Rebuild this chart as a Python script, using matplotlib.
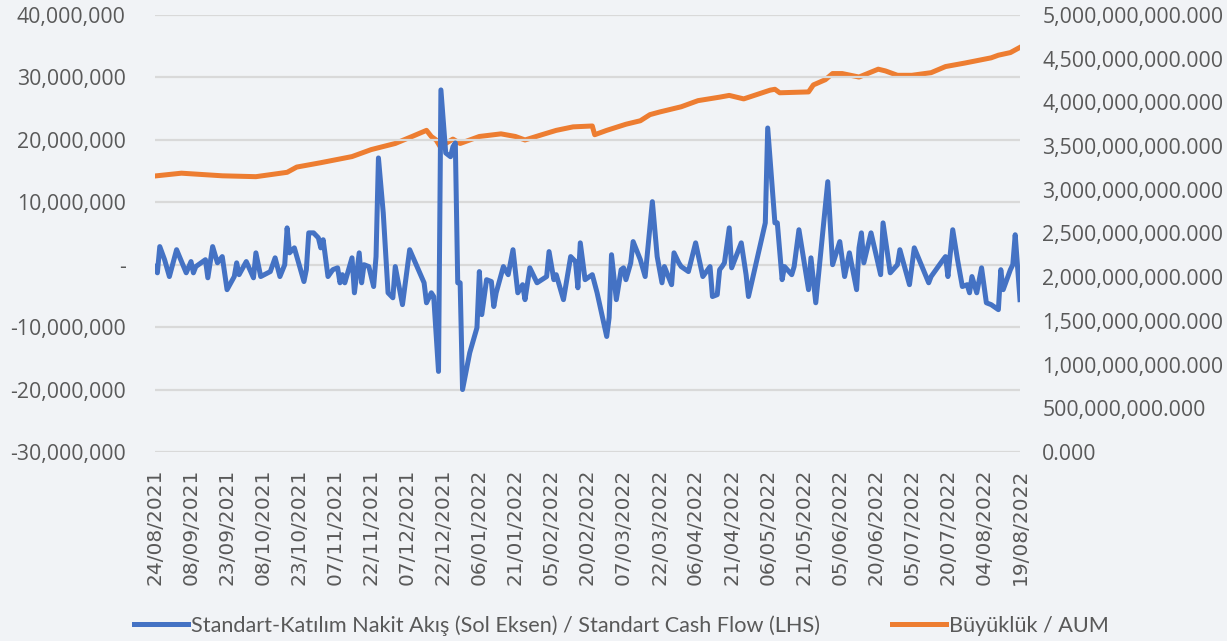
import numpy as np
import pandas as pd
import matplotlib
matplotlib.use('Agg')
import matplotlib.pyplot as plt
import matplotlib.ticker as mticker

# ------------------------------------------------------
#  Data (days counted from 24/08/2021)
# ------------------------------------------------------
start_date = pd.Timestamp('2021-08-24')

# Standart cash flow, millions TL
flow_days = [0, 1, 2, 4, 6, 9, 13, 15, 16, 17, 21, 22, 24, 26, 28, 30, 33, 34, 35, 38,
             41, 42, 44, 48, 50, 52, 54, 55, 56, 58, 62, 63, 64, 66, 68, 69, 70, 72, 74, 76,
             77, 78, 79, 82, 83, 85, 86, 87, 89, 91, 92, 93, 95, 97, 99, 100, 103, 106, 112, 113,
             115, 116, 118, 119, 121, 123, 124, 125, 126, 127, 128, 131, 134, 135, 136, 138, 140, 141, 142, 145,
             147, 149, 151, 153, 154, 156, 159, 163, 164, 166, 167, 170, 173, 175, 176, 177, 179, 182, 184, 188,
             189, 190, 192, 194, 195, 196, 198, 199, 202, 204, 207, 209, 211, 212, 215, 216, 218, 219, 222, 225,
             228, 231, 232, 234, 235, 236, 237, 239, 240, 244, 246, 247, 254, 255, 258, 259, 261, 262, 265, 266,
             268, 271, 272, 273, 275, 280, 282, 285, 287, 289, 292, 293, 294, 295, 298, 302, 303, 306, 309, 310,
             314, 316, 322, 323, 328, 329, 330, 332, 334, 336, 338, 339, 340, 342, 344, 346, 348, 351, 352, 353,
             356, 357, 358, 360]
flow_musd = [-0.3, -1.3, 2.9, 0.8, -1.9, 2.4, -1.3, 0.5, -1.3, -0.3, 0.8, -2.1, 2.9, 0.3, 1.3, -4.0, -1.9, 0.3, -1.6, 0.5,
             -2.1, 1.9, -1.9, -1.1, 1.1, -1.9, 0.0, 5.9, 1.9, 2.7, -2.7, -0.8, 5.1, 5.1, 4.3, 2.7, 4.0, -1.9, -0.8, -0.5,
             -2.9, -1.6, -2.9, 1.1, -4.5, 1.9, -2.9, 0.0, -0.3, -3.5, 1.3, 17.1, 8.3, -4.5, -5.3, -0.3, -6.4, 2.4, -2.9, -6.1,
             -4.5, -5.1, -17.1, 28.0, 17.9, 17.3, 18.9, 19.5, -2.9, -2.9, -20.0, -14.1, -10.1, -1.1, -8.0, -2.4, -2.7, -6.7, -4.5, -0.3,
             -1.6, 2.4, -4.5, -3.2, -5.6, -0.5, -2.9, -1.9, 2.1, -2.4, -1.6, -5.6, 1.3, 0.5, -3.7, 3.5, -2.4, -1.6, -4.5, -11.5,
             -8.5, 1.6, -5.6, -0.8, -0.5, -2.4, 0.3, 3.7, 0.8, -1.9, 10.1, 1.3, -2.9, -0.3, -3.2, 1.9, 0.3, -0.3, -1.1, 3.5,
             -1.9, -0.3, -5.1, -4.8, -0.8, -0.3, 0.3, 5.9, -0.5, 3.5, -1.6, -5.1, 6.7, 21.9, 6.7, 6.7, -2.4, -0.3, -1.6, -0.3,
             5.6, -1.6, -4.0, 1.1, -6.1, 13.3, 0.0, 3.7, -1.9, 1.9, -4.0, 2.7, 5.1, 0.3, 5.1, -1.6, 6.7, -1.3, 0.0, 2.4,
             -3.2, 2.7, -2.9, -1.9, 0.8, 1.3, -1.9, 5.6, 0.8, -3.5, -3.2, -4.5, -1.9, -4.5, -0.5, -6.1, -6.4, -7.2, -0.8, -4.0,
             -0.8, 0.0, 4.8, -5.6, -4.0][:len(flow_days)]

# Fund size (AUM), billions TL
aum_days = [0, 11, 28, 42, 55, 59, 69, 82, 90, 100, 107, 113, 115, 117, 119, 121, 124, 127, 135, 144,
            150, 154, 161, 167, 174, 182, 183, 188, 196, 202, 206, 210, 219, 226, 235, 239, 245, 256, 258, 260,
            272, 274, 279, 282, 286, 293, 301, 304, 309, 315, 323, 329, 337, 348, 351, 356, 360]
aum_bn = [3.158, 3.19, 3.16, 3.15, 3.20, 3.26, 3.31, 3.38, 3.46, 3.53, 3.61, 3.68, 3.61, 3.57, 3.48, 3.53, 3.58, 3.53, 3.61, 3.64,
          3.61, 3.57, 3.63, 3.68, 3.72, 3.73, 3.63, 3.68, 3.75, 3.79, 3.86, 3.89, 3.95, 4.02, 4.06, 4.08, 4.04, 4.14, 4.15, 4.11,
          4.12, 4.20, 4.26, 4.33, 4.33, 4.29, 4.38, 4.36, 4.31, 4.31, 4.34, 4.41, 4.45, 4.51, 4.54, 4.57, 4.63]

flow_label = 'Standart-Katılım Nakit Akış (Sol Eksen) / Standart Cash Flow (LHS)'
aum_label = 'Büyüklük / AUM'

flow_dates = start_date + pd.to_timedelta(flow_days, unit='D')
aum_dates = start_date + pd.to_timedelta(aum_days, unit='D')
flow_vals = np.array(flow_musd) * 1e6
aum_vals = np.array(aum_bn) * 1e9
tick_dates = pd.date_range(start_date, periods=25, freq='15D')

# ------------------------------------------------------
#  Plot
# ------------------------------------------------------
bg = '#f1f3f6'
txt = '#595959'
plt.rcParams['font.family'] = ['Open Sans', 'DejaVu Sans']

fig = plt.figure(figsize=(12.27, 6.41), dpi=100, facecolor=bg)
ax = fig.add_axes([0.1263, 0.2949, 0.705, 0.6817])
ax.set_facecolor(bg)
ax2 = ax.twinx()

l1, = ax.plot(flow_dates, flow_vals, color='#4472C4', lw=3.6, solid_joinstyle='round', zorder=3)
l2, = ax2.plot(aum_dates, aum_vals, color='#ED7D31', lw=3.6, solid_joinstyle='round', zorder=3)

ax.set_ylim(-30e6, 40e6)
ax.set_yticks(np.arange(-30e6, 40e6 + 1, 10e6))
ax2.set_ylim(0, 5e9)
ax2.set_yticks(np.arange(0, 5e9 + 1, 0.5e9))
ax.set_xlim(start_date, start_date + pd.Timedelta(days=360))

ax.yaxis.set_major_formatter(mticker.FuncFormatter(lambda v, p: '-' if abs(v) < 1 else f'{v:,.0f}'))
ax2.yaxis.set_major_formatter(mticker.FuncFormatter(lambda v, p: f'{v:,.3f}'))

ax.set_xticks(tick_dates)
ax.set_xticklabels([d.strftime('%d/%m/%Y') for d in tick_dates], rotation=90,
                   fontsize=14.5, color=txt, family=['DejaVu Sans'])

ax.grid(axis='y', color='#d9d9d9', lw=1.6, zorder=0)
ax.set_axisbelow(True)
for a in (ax, ax2):
    for s in a.spines.values():
        s.set_visible(False)
    a.tick_params(length=0, labelsize=15.3, labelcolor=txt)
ax.tick_params(axis='y', pad=21)
ax.tick_params(axis='x', pad=12, labelsize=14.5)
ax2.tick_params(axis='y', pad=16)
ax.set_zorder(ax2.get_zorder() + 1)
ax.patch.set_visible(False)

fig.legend([l1, l2], [flow_label, aum_label], loc='lower left', bbox_to_anchor=(0.093, -0.022),
           ncol=2, frameon=False, labelcolor=txt, handlelength=2.5,
           handletextpad=0.15, columnspacing=3.3,
           prop={'family': ['Lato', 'DejaVu Sans'], 'size': 15.6})

fig.savefig('out.png', dpi=100, facecolor=bg)
